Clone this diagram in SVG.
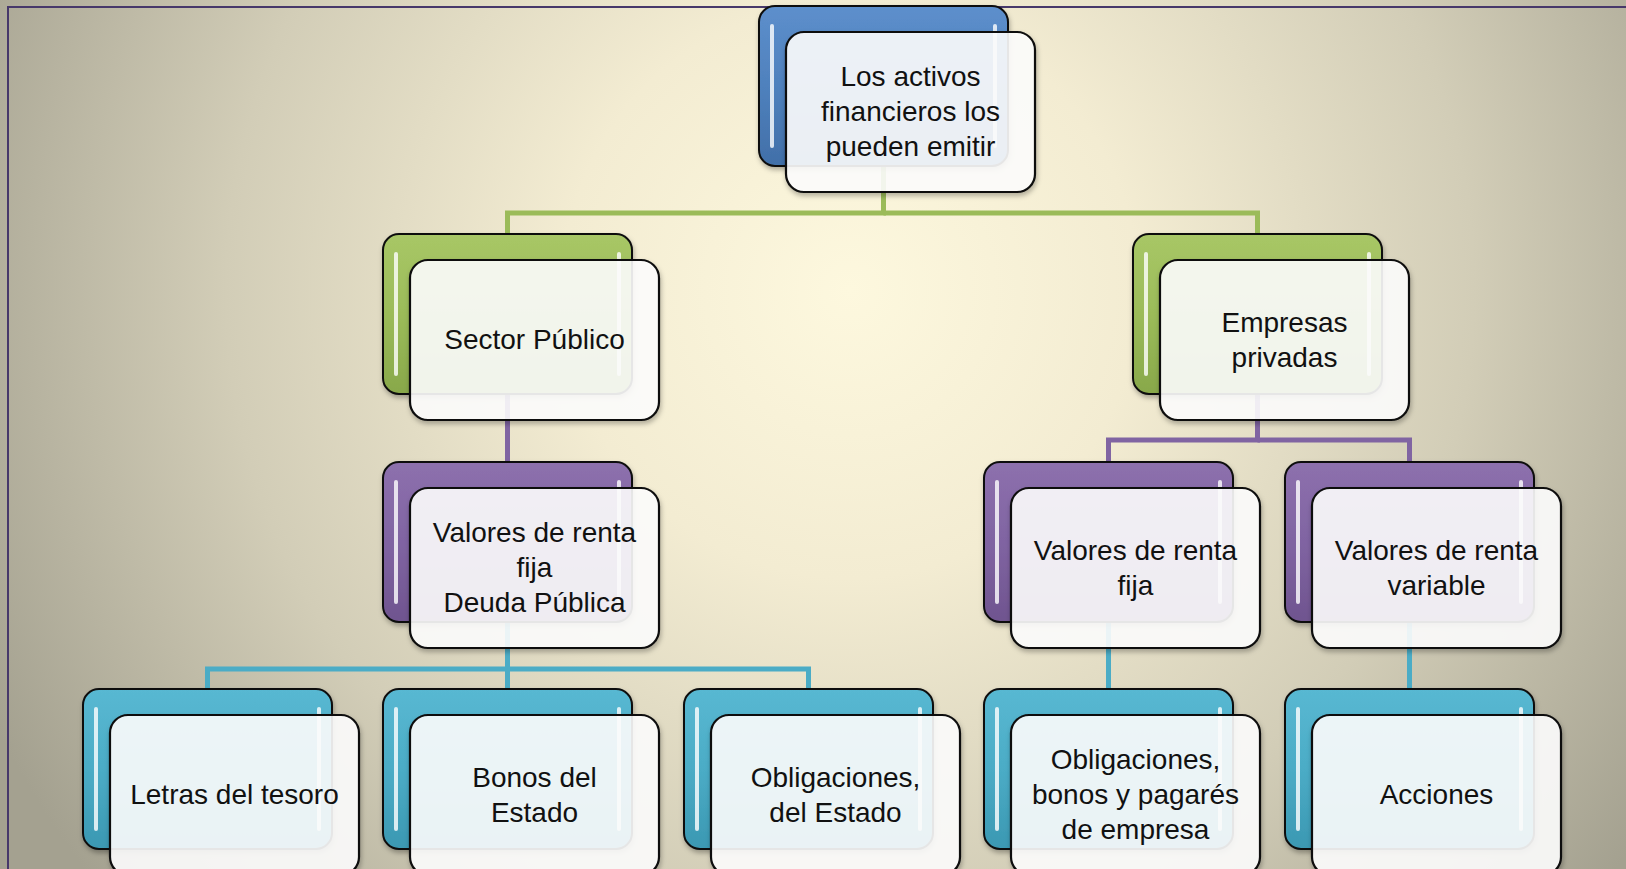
<svg xmlns="http://www.w3.org/2000/svg" width="1626" height="869" viewBox="0 0 1626 869">
<defs>
<radialGradient id="bg" gradientUnits="userSpaceOnUse" cx="850" cy="290" r="960">
<stop offset="0" stop-color="#fdf8de"/>
<stop offset="0.3" stop-color="#f3ecd2"/>
<stop offset="0.65" stop-color="#d2cdb7"/>
<stop offset="1" stop-color="#a4a190"/>
</radialGradient>
<linearGradient id="gBlue" x1="0" y1="0" x2="0" y2="1">
<stop offset="0" stop-color="#5d8fcc"/><stop offset="0.5" stop-color="#4f81bd"/><stop offset="1" stop-color="#416fa8"/>
</linearGradient>
<linearGradient id="gGreen" x1="0" y1="0" x2="0" y2="1">
<stop offset="0" stop-color="#a8c766"/><stop offset="0.5" stop-color="#9bbb59"/><stop offset="1" stop-color="#88a84a"/>
</linearGradient>
<linearGradient id="gPurple" x1="0" y1="0" x2="0" y2="1">
<stop offset="0" stop-color="#8d70ad"/><stop offset="0.5" stop-color="#8064a2"/><stop offset="1" stop-color="#6f548f"/>
</linearGradient>
<linearGradient id="gAqua" x1="0" y1="0" x2="0" y2="1">
<stop offset="0" stop-color="#58b8d2"/><stop offset="0.5" stop-color="#4bacc6"/><stop offset="1" stop-color="#3b98b2"/>
</linearGradient>
<filter id="sh" x="-10%" y="-10%" width="125%" height="130%">
<feDropShadow dx="1" dy="3" stdDeviation="2.5" flood-color="#000" flood-opacity="0.3"/>
</filter>
<style>
.back{stroke:#111;stroke-width:2;filter:url(#sh)}
.blue{fill:url(#gBlue)}
.green{fill:url(#gGreen)}
.purple{fill:url(#gPurple)}
.aqua{fill:url(#gAqua)}
.hl{fill:#ffffff;fill-opacity:0.8}
.front{fill:#ffffff;fill-opacity:0.88;stroke:#111;stroke-width:2.2;filter:url(#sh)}
.t{font-family:"Liberation Sans",Arial,sans-serif;font-size:28px;fill:#111;text-anchor:middle}
.c{fill:none;stroke-width:5}
.cg{stroke:#9bbb59}
.cp{stroke:#8064a2}
.ca{stroke:#4bacc6}
</style>
</defs>
<rect x="0" y="0" width="1626" height="869" fill="url(#bg)"/>
<path d="M8 869 V7 H1626" fill="none" stroke="#47386a" stroke-width="2"/>
<g id="connectors">
<path class="c cg" d="M883.5 166 V213 H507.5 V234"/>
<path class="c cg" d="M883.5 213 H1257.5 V234"/>
<path class="c cp" d="M507.5 394 V462"/>
<path class="c cp" d="M1257.5 394 V440 H1108.5 V462"/>
<path class="c cp" d="M1257.5 440 H1409.5 V462"/>
<path class="c ca" d="M507.5 622 V669 H207.5 V689"/>
<path class="c ca" d="M507.5 669 V689"/>
<path class="c ca" d="M507.5 669 H808.5 V689"/>
<path class="c ca" d="M1108.5 622 V689"/>
<path class="c ca" d="M1409.5 622 V689"/>
</g>
<g id="n-top">
<rect class="back blue" x="759" y="6" width="249" height="160" rx="16"/>
<rect class="hl" x="770" y="24" width="4" height="124" rx="2"/>
<rect class="hl" x="993" y="24" width="4" height="124" rx="2"/>
<rect class="front" x="786" y="32" width="249" height="160" rx="18"/>
<text class="t" x="910.5"><tspan x="910.5" y="86">Los activos</tspan><tspan x="910.5" y="121">financieros los</tspan><tspan x="910.5" y="156">pueden emitir</tspan></text>
</g>
<g id="n-sector">
<rect class="back green" x="383" y="234" width="249" height="160" rx="16"/>
<rect class="hl" x="394" y="252" width="4" height="124" rx="2"/>
<rect class="hl" x="617" y="252" width="4" height="124" rx="2"/>
<rect class="front" x="410" y="260" width="249" height="160" rx="18"/>
<text class="t" x="534.5" y="349">Sector Público</text>
</g>
<g id="n-empresas">
<rect class="back green" x="1133" y="234" width="249" height="160" rx="16"/>
<rect class="hl" x="1144" y="252" width="4" height="124" rx="2"/>
<rect class="hl" x="1367" y="252" width="4" height="124" rx="2"/>
<rect class="front" x="1160" y="260" width="249" height="160" rx="18"/>
<text class="t"><tspan x="1284.5" y="331.5">Empresas</tspan><tspan x="1284.5" y="366.5">privadas</tspan></text>
</g>
<g id="n-vrf-publico">
<rect class="back purple" x="383" y="462" width="249" height="160" rx="16"/>
<rect class="hl" x="394" y="480" width="4" height="124" rx="2"/>
<rect class="hl" x="617" y="480" width="4" height="124" rx="2"/>
<rect class="front" x="410" y="488" width="249" height="160" rx="18"/>
<text class="t"><tspan x="534.5" y="542">Valores de renta</tspan><tspan x="534.5" y="577">fija</tspan><tspan x="534.5" y="612">Deuda Pública</tspan></text>
</g>
<g id="n-vrf-empresas">
<rect class="back purple" x="984" y="462" width="249" height="160" rx="16"/>
<rect class="hl" x="995" y="480" width="4" height="124" rx="2"/>
<rect class="hl" x="1218" y="480" width="4" height="124" rx="2"/>
<rect class="front" x="1011" y="488" width="249" height="160" rx="18"/>
<text class="t"><tspan x="1135.5" y="559.5">Valores de renta</tspan><tspan x="1135.5" y="594.5">fija</tspan></text>
</g>
<g id="n-vrv">
<rect class="back purple" x="1285" y="462" width="249" height="160" rx="16"/>
<rect class="hl" x="1296" y="480" width="4" height="124" rx="2"/>
<rect class="hl" x="1519" y="480" width="4" height="124" rx="2"/>
<rect class="front" x="1312" y="488" width="249" height="160" rx="18"/>
<text class="t"><tspan x="1436.5" y="559.5">Valores de renta</tspan><tspan x="1436.5" y="594.5">variable</tspan></text>
</g>
<g id="n-letras">
<rect class="back aqua" x="83" y="689" width="249" height="160" rx="16"/>
<rect class="hl" x="94" y="707" width="4" height="124" rx="2"/>
<rect class="hl" x="317" y="707" width="4" height="124" rx="2"/>
<rect class="front" x="110" y="715" width="249" height="160" rx="18"/>
<text class="t" x="234.5" y="804">Letras del tesoro</text>
</g>
<g id="n-bonos">
<rect class="back aqua" x="383" y="689" width="249" height="160" rx="16"/>
<rect class="hl" x="394" y="707" width="4" height="124" rx="2"/>
<rect class="hl" x="617" y="707" width="4" height="124" rx="2"/>
<rect class="front" x="410" y="715" width="249" height="160" rx="18"/>
<text class="t"><tspan x="534.5" y="786.5">Bonos del</tspan><tspan x="534.5" y="821.5">Estado</tspan></text>
</g>
<g id="n-obligaciones-estado">
<rect class="back aqua" x="684" y="689" width="249" height="160" rx="16"/>
<rect class="hl" x="695" y="707" width="4" height="124" rx="2"/>
<rect class="hl" x="918" y="707" width="4" height="124" rx="2"/>
<rect class="front" x="711" y="715" width="249" height="160" rx="18"/>
<text class="t"><tspan x="835.5" y="786.5">Obligaciones,</tspan><tspan x="835.5" y="821.5">del Estado</tspan></text>
</g>
<g id="n-obligaciones-empresa">
<rect class="back aqua" x="984" y="689" width="249" height="160" rx="16"/>
<rect class="hl" x="995" y="707" width="4" height="124" rx="2"/>
<rect class="hl" x="1218" y="707" width="4" height="124" rx="2"/>
<rect class="front" x="1011" y="715" width="249" height="160" rx="18"/>
<text class="t"><tspan x="1135.5" y="769">Obligaciones,</tspan><tspan x="1135.5" y="804">bonos y pagarés</tspan><tspan x="1135.5" y="839">de empresa</tspan></text>
</g>
<g id="n-acciones">
<rect class="back aqua" x="1285" y="689" width="249" height="160" rx="16"/>
<rect class="hl" x="1296" y="707" width="4" height="124" rx="2"/>
<rect class="hl" x="1519" y="707" width="4" height="124" rx="2"/>
<rect class="front" x="1312" y="715" width="249" height="160" rx="18"/>
<text class="t" x="1436.5" y="804">Acciones</text>
</g>
</svg>
